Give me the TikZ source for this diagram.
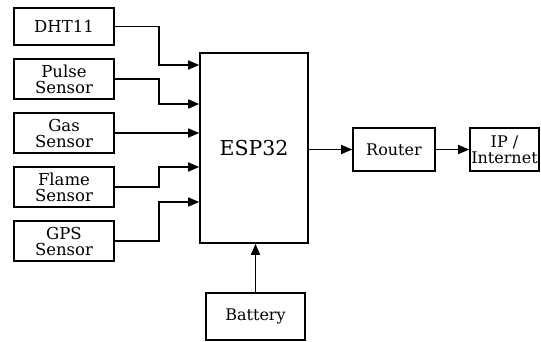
\documentclass[tikz,border=0pt]{standalone}
\usepackage{fontspec}
\setmainfont{DejaVu Serif}
\usetikzlibrary{arrows.meta}
\begin{document}
\begin{tikzpicture}[x=1pt,y=-1pt,
  box/.style={draw, line width=1.6pt, align=center, inner sep=0pt, fill=white},
  sens/.style={box, minimum width=100pt, minimum height=40pt, font=\fontsize{16.5}{16}\selectfont},
  small/.style={box, font=\fontsize{16}{16}\selectfont},
  arr/.style={line width=1.6pt, -{Triangle[length=11pt,width=9pt]}}]
\useasboundingbox (0,0) rectangle (541,341);
\node[sens, minimum height=37pt] (dht) at (64,26.5) {DHT11};
\node[sens] (pulse) at (64,79) {Pulse\\Sensor};
\node[sens] (gas) at (64,133) {Gas\\Sensor};
\node[sens] (flame) at (64,187) {Flame\\Sensor};
\node[sens] (gps) at (64,241) {GPS\\Sensor};
\node[box, minimum width=108pt, minimum height=190pt, font=\fontsize{20.5}{22}\selectfont] (esp) at (254,148) {ESP32};
\node[small, minimum width=82pt, minimum height=43pt] (router) at (394,149.5) {Router};
\node[small, minimum width=69pt, minimum height=43pt] (ip) at (504.5,149.5) {IP /\\Internet};
\node[small, minimum width=99pt, minimum height=47pt] (bat) at (255.5,316.5) {Battery};
\draw[arr] (dht.east) -- (159,26.5) |- (esp.west |- 0,65);
\draw[arr] (pulse.east) -- (159,79) |- (esp.west |- 0,104);
\draw[arr] (gas.east) -- (esp.west |- gas.east);
\draw[arr] (flame.east) -- (159,187) |- (esp.west |- 0,167);
\draw[arr] (gps.east) -- (159,241) |- (esp.west |- 0,202);
\draw[arr] (esp.east |- router.west) -- (router.west);
\draw[arr] (router.east) -- (ip.west);
\draw[arr] (bat.north) -- (bat.north |- esp.south);
\end{tikzpicture}
\end{document}
